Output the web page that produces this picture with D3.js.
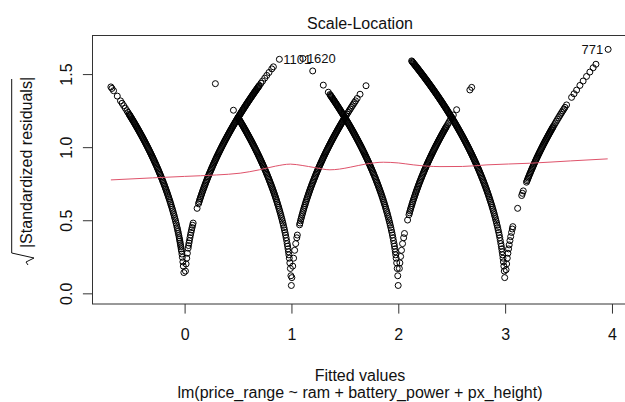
<!DOCTYPE html>
<html>
<head>
<meta charset="utf-8">
<script src="https://cdn.jsdelivr.net/npm/d3@7"></script>
<style>
  body { margin: 0; background: #fff; }
  svg { display: block; font-family: "Liberation Sans", Arial, sans-serif; }
</style>
</head>
<body>
<svg width="625" height="402"></svg>
<script>
// fitted values, one array per observed price_range (0..3)
const class0Fitted = [
  -0.69, -0.68, -0.665, -0.63, -0.6, -0.585, -0.57, -0.555, -0.54, -0.53,
  -0.52, -0.515, -0.51, -0.505, -0.5, -0.495, -0.49, -0.485, -0.48, -0.475,
  -0.47, -0.465, -0.46, -0.455, -0.45, -0.445, -0.44, -0.435, -0.43, -0.425,
  -0.42, -0.415, -0.41, -0.405, -0.4, -0.395, -0.39, -0.385, -0.38, -0.375,
  -0.37, -0.365, -0.36, -0.355, -0.35, -0.345, -0.34, -0.335, -0.33, -0.325,
  -0.32, -0.315, -0.31, -0.305, -0.3, -0.295, -0.29, -0.285, -0.28, -0.275,
  -0.27, -0.265, -0.26, -0.255, -0.25, -0.245, -0.24, -0.235, -0.23, -0.225,
  -0.22, -0.215, -0.21, -0.205, -0.2, -0.195, -0.19, -0.185, -0.18, -0.175,
  -0.17, -0.165, -0.16, -0.155, -0.15, -0.145, -0.14, -0.135, -0.13, -0.125,
  -0.12, -0.115, -0.11, -0.105, -0.1, -0.095, -0.09, -0.085, -0.08, -0.075,
  -0.07, -0.066, -0.062, -0.058, -0.054, -0.05, -0.047, -0.044, -0.041, -0.038,
  -0.035, -0.032, -0.029, -0.025, -0.021, -0.016, -0.012, -0.007, 0.008, 0.014,
  0.02, 0.026, 0.033, 0.037, 0.041, 0.045, 0.05, 0.055, 0.06, 0.065,
  0.07, 0.075, 0.08, 0.117, 0.13, 0.135, 0.14, 0.145, 0.15, 0.155,
  0.16, 0.165, 0.17, 0.175, 0.18, 0.185, 0.19, 0.195, 0.2, 0.205,
  0.21, 0.215, 0.22, 0.225, 0.23, 0.235, 0.24, 0.245, 0.25, 0.255,
  0.26, 0.265, 0.27, 0.275, 0.28, 0.285, 0.29, 0.295, 0.3, 0.305,
  0.31, 0.315, 0.32, 0.325, 0.33, 0.335, 0.34, 0.345, 0.35, 0.355,
  0.36, 0.365, 0.37, 0.375, 0.38, 0.385, 0.39, 0.395, 0.4, 0.405,
  0.41, 0.415, 0.42, 0.425, 0.43, 0.435, 0.44, 0.445, 0.45, 0.455,
  0.46, 0.465, 0.47, 0.475, 0.48, 0.485, 0.49, 0.495, 0.5, 0.505,
  0.51, 0.515, 0.52, 0.525, 0.53, 0.535, 0.54, 0.545, 0.55, 0.555,
  0.56, 0.565, 0.57, 0.575, 0.58, 0.585, 0.59, 0.595, 0.6, 0.605,
  0.61, 0.615, 0.62, 0.625, 0.63, 0.635, 0.64, 0.645, 0.65, 0.655,
  0.66, 0.665, 0.67, 0.675, 0.68, 0.685, 0.69, 0.695, 0.7, 0.715,
  0.73, 0.75, 0.769, 0.79, 0.816, 0.831, 0.887
];
const class1Fitted = [
  0.288, 0.457, 0.5, 0.505, 0.51, 0.515, 0.52, 0.525, 0.53, 0.535,
  0.54, 0.545, 0.55, 0.555, 0.56, 0.565, 0.57, 0.575, 0.58, 0.585,
  0.59, 0.595, 0.6, 0.605, 0.61, 0.615, 0.62, 0.625, 0.63, 0.635,
  0.64, 0.645, 0.65, 0.655, 0.66, 0.665, 0.67, 0.675, 0.68, 0.685,
  0.69, 0.695, 0.7, 0.705, 0.71, 0.715, 0.72, 0.725, 0.73, 0.735,
  0.74, 0.745, 0.75, 0.755, 0.76, 0.765, 0.77, 0.775, 0.78, 0.785,
  0.79, 0.795, 0.8, 0.805, 0.81, 0.815, 0.82, 0.825, 0.83, 0.835,
  0.84, 0.845, 0.85, 0.855, 0.86, 0.865, 0.87, 0.875, 0.88, 0.885,
  0.89, 0.895, 0.9, 0.905, 0.91, 0.915, 0.92, 0.925, 0.93, 0.935,
  0.94, 0.945, 0.95, 0.955, 0.96, 0.964, 0.968, 0.972, 0.976, 0.98,
  0.985, 0.99, 0.995, 0.999, 1.004, 1.012, 1.02, 1.03, 1.04, 1.05,
  1.055, 1.076, 1.08, 1.085, 1.09, 1.095, 1.1, 1.105, 1.11, 1.115,
  1.12, 1.125, 1.13, 1.135, 1.14, 1.145, 1.15, 1.155, 1.16, 1.165,
  1.17, 1.175, 1.18, 1.185, 1.19, 1.195, 1.2, 1.205, 1.21, 1.215,
  1.22, 1.225, 1.23, 1.235, 1.24, 1.245, 1.25, 1.255, 1.26, 1.265,
  1.27, 1.275, 1.28, 1.285, 1.29, 1.295, 1.3, 1.305, 1.31, 1.315,
  1.32, 1.325, 1.33, 1.335, 1.34, 1.345, 1.35, 1.355, 1.36, 1.365,
  1.37, 1.375, 1.38, 1.385, 1.39, 1.395, 1.4, 1.405, 1.41, 1.415,
  1.42, 1.425, 1.43, 1.435, 1.44, 1.445, 1.45, 1.455, 1.46, 1.465,
  1.47, 1.475, 1.48, 1.485, 1.49, 1.495, 1.5, 1.51, 1.52, 1.53,
  1.54, 1.55, 1.56, 1.57, 1.58, 1.59, 1.6, 1.615, 1.642, 1.698
];
const class2Fitted = [
  1.107, 1.199, 1.298, 1.345, 1.36, 1.365, 1.37, 1.375, 1.38, 1.385,
  1.39, 1.395, 1.4, 1.405, 1.41, 1.415, 1.42, 1.425, 1.43, 1.435,
  1.44, 1.445, 1.45, 1.455, 1.46, 1.465, 1.47, 1.475, 1.48, 1.485,
  1.49, 1.495, 1.5, 1.505, 1.51, 1.515, 1.52, 1.525, 1.53, 1.535,
  1.54, 1.545, 1.55, 1.555, 1.56, 1.565, 1.57, 1.575, 1.58, 1.585,
  1.59, 1.595, 1.6, 1.605, 1.61, 1.615, 1.62, 1.625, 1.63, 1.635,
  1.64, 1.645, 1.65, 1.655, 1.66, 1.665, 1.67, 1.675, 1.68, 1.685,
  1.69, 1.695, 1.7, 1.705, 1.71, 1.715, 1.72, 1.725, 1.73, 1.735,
  1.74, 1.745, 1.75, 1.755, 1.76, 1.765, 1.77, 1.775, 1.78, 1.785,
  1.79, 1.795, 1.8, 1.805, 1.81, 1.815, 1.82, 1.825, 1.83, 1.835,
  1.84, 1.845, 1.85, 1.855, 1.86, 1.865, 1.87, 1.875, 1.88, 1.885,
  1.89, 1.895, 1.9, 1.905, 1.91, 1.915, 1.92, 1.925, 1.93, 1.935,
  1.94, 1.945, 1.95, 1.955, 1.96, 1.964, 1.968, 1.972, 1.976, 1.98,
  1.985, 1.99, 1.995, 1.999, 2.01, 2.015, 2.022, 2.03, 2.04, 2.05,
  2.058, 2.087, 2.1, 2.105, 2.11, 2.115, 2.12, 2.125, 2.13, 2.135,
  2.14, 2.145, 2.15, 2.155, 2.16, 2.165, 2.17, 2.175, 2.18, 2.185,
  2.19, 2.195, 2.2, 2.205, 2.21, 2.215, 2.22, 2.225, 2.23, 2.235,
  2.24, 2.245, 2.25, 2.255, 2.26, 2.265, 2.27, 2.275, 2.28, 2.285,
  2.29, 2.295, 2.3, 2.305, 2.31, 2.315, 2.32, 2.325, 2.33, 2.335,
  2.34, 2.345, 2.35, 2.355, 2.36, 2.365, 2.37, 2.375, 2.38, 2.385,
  2.39, 2.395, 2.4, 2.405, 2.41, 2.415, 2.42, 2.425, 2.43, 2.435,
  2.44, 2.445, 2.45, 2.46, 2.47, 2.48, 2.49, 2.5, 2.515, 2.546,
  2.67, 2.687
];
const class3Fitted = [
  2.125, 2.13, 2.135, 2.14, 2.145, 2.15, 2.155, 2.16, 2.165, 2.17,
  2.175, 2.18, 2.185, 2.19, 2.195, 2.2, 2.205, 2.21, 2.215, 2.22,
  2.225, 2.23, 2.235, 2.24, 2.245, 2.25, 2.255, 2.26, 2.265, 2.27,
  2.275, 2.28, 2.285, 2.29, 2.295, 2.3, 2.305, 2.31, 2.315, 2.32,
  2.325, 2.33, 2.335, 2.34, 2.345, 2.35, 2.355, 2.36, 2.365, 2.37,
  2.375, 2.38, 2.385, 2.39, 2.395, 2.4, 2.405, 2.41, 2.415, 2.42,
  2.425, 2.43, 2.435, 2.44, 2.445, 2.45, 2.455, 2.46, 2.465, 2.47,
  2.475, 2.48, 2.485, 2.49, 2.495, 2.5, 2.505, 2.51, 2.515, 2.52,
  2.525, 2.53, 2.535, 2.54, 2.545, 2.55, 2.555, 2.56, 2.565, 2.57,
  2.575, 2.58, 2.585, 2.59, 2.595, 2.6, 2.605, 2.61, 2.615, 2.62,
  2.625, 2.63, 2.635, 2.64, 2.645, 2.65, 2.655, 2.66, 2.665, 2.67,
  2.675, 2.68, 2.685, 2.69, 2.695, 2.7, 2.705, 2.71, 2.715, 2.72,
  2.725, 2.73, 2.735, 2.74, 2.745, 2.75, 2.755, 2.76, 2.765, 2.77,
  2.775, 2.78, 2.785, 2.79, 2.795, 2.8, 2.805, 2.81, 2.815, 2.82,
  2.825, 2.83, 2.835, 2.84, 2.845, 2.85, 2.855, 2.86, 2.865, 2.87,
  2.875, 2.88, 2.885, 2.89, 2.895, 2.9, 2.905, 2.91, 2.915, 2.92,
  2.925, 2.93, 2.935, 2.94, 2.945, 2.95, 2.955, 2.96, 2.964, 2.968,
  2.972, 2.976, 2.98, 2.984, 2.988, 2.992, 2.996, 3.009, 3.014, 3.02,
  3.026, 3.032, 3.038, 3.045, 3.052, 3.06, 3.067, 3.072, 3.117, 3.155,
  3.162, 3.17, 3.2, 3.205, 3.21, 3.215, 3.22, 3.225, 3.23, 3.235,
  3.24, 3.245, 3.25, 3.255, 3.26, 3.265, 3.27, 3.275, 3.28, 3.285,
  3.29, 3.295, 3.3, 3.305, 3.31, 3.315, 3.32, 3.325, 3.33, 3.335,
  3.34, 3.345, 3.35, 3.355, 3.36, 3.365, 3.37, 3.375, 3.38, 3.385,
  3.39, 3.395, 3.4, 3.405, 3.41, 3.415, 3.42, 3.425, 3.43, 3.435,
  3.44, 3.445, 3.45, 3.46, 3.47, 3.48, 3.49, 3.5, 3.51, 3.52,
  3.53, 3.54, 3.55, 3.56, 3.575, 3.622, 3.645, 3.669, 3.7, 3.73,
  3.762, 3.793, 3.824, 3.85, 3.964
];

// residual standard error of the fit
const residualSE = 0.346;

// lowess smoother (red line)
const smoothX = [-0.69, -0.3, 0, 0.3, 0.52, 0.7, 0.85, 0.99, 1.1, 1.22, 1.36, 1.45, 1.55, 1.7, 1.86, 2.0, 2.14, 2.39, 2.6, 2.83, 3.23, 3.61, 3.96];
const smoothY = [0.776, 0.79, 0.8, 0.81, 0.822, 0.845, 0.87, 0.884, 0.875, 0.86, 0.845, 0.85, 0.863, 0.885, 0.897, 0.892, 0.879, 0.867, 0.868, 0.879, 0.89, 0.906, 0.92];

// labelled observations
const idLabels = ["1101", "1620", "771"];
const idClass = [0, 2, 3];
const idFitted = [0.887, 1.107, 3.964];

const xTicks = [0, 1, 2, 3, 4];
const yTicks = [0, 0.5, 1, 1.5];

const svg = d3.select("svg"),
    width = +svg.attr("width"),
    height = +svg.attr("height");

const x = d3.scaleLinear().domain([-0.862, 4.15]).range([92.5, 628]);
const y = d3.scaleLinear().domain([-0.073, 1.764]).range([304, 35.5]);

const rootStd = (cls, fitted) => { return Math.sqrt(Math.abs(cls - fitted) / residualSE); };

const points = [];
[class0Fitted, class1Fitted, class2Fitted, class3Fitted].forEach((arr, k) => {
  arr.forEach(f => { points.push({ cls: k, fitted: f }); });
});

/* points */
svg.append("g")
    .attr("class", "points")
    .selectAll("circle")
    .data(points)
    .enter().append("circle")
    .attr("cx", d => { return x(d.fitted); })
    .attr("cy", d => { return y(rootStd(d.cls, d.fitted)); })
    .attr("r", 3)
    .attr("fill", "none")
    .attr("stroke", "#000")
    .attr("stroke-width", 1);

/* smoother */
const line = d3.line()
    .x((d, i) => { return x(smoothX[i]); })
    .y(d => { return y(d); })
    .curve(d3.curveMonotoneX);

svg.append("path")
    .datum(smoothY)
    .attr("d", line)
    .attr("fill", "none")
    .attr("stroke", "#DF536B")
    .attr("stroke-width", 1);

/* id labels (R draws them on top of each other here) */
svg.append("g")
    .attr("class", "ids")
    .selectAll("text")
    .data(idLabels)
    .enter().append("text")
    .attr("x", (d, i) => { return idFitted[i] > 1.7 ? x(idFitted[i]) - 5 : x(idFitted[i]) + 4; })
    .attr("y", (d, i) => { return y(rootStd(idClass[i], idFitted[i])) + 4.6; })
    .attr("text-anchor", (d, i) => { return idFitted[i] > 1.7 ? "end" : "start"; })
    .style("font-size", "13px")
    .attr("fill", "#111")
    .text(d => { return d; });

/* box */
svg.append("rect")
    .attr("x", 92.5)
    .attr("y", 35.5)
    .attr("width", 628 - 92.5)
    .attr("height", 304 - 35.5)
    .attr("fill", "none")
    .attr("stroke", "#333")
    .attr("stroke-width", 1);

/* axes */
const xAxis = svg.append("g")
    .attr("transform", "translate(0,304)")
    .call(d3.axisBottom(x).tickValues(xTicks).tickFormat(d3.format("d")).tickSize(9.6).tickPadding(15));

const yAxis = svg.append("g")
    .attr("transform", "translate(92.5,0)")
    .call(d3.axisLeft(y).tickValues(yTicks).tickFormat(d3.format(".1f")).tickSize(9.6));

[xAxis, yAxis].forEach(a => {
  a.select(".domain").remove();
  a.selectAll("line").attr("stroke", "#333");
  a.selectAll("text")
      .attr("fill", "#111")
      .style("font-size", "16px")
      .style("font-family", "'Liberation Sans', Arial, sans-serif");
});

yAxis.selectAll("text")
    .attr("x", null)
    .attr("dy", null)
    .attr("text-anchor", "middle")
    .attr("transform", "translate(-20.5,0) rotate(-90)");

/* titles */
svg.append("text")
    .attr("x", 360)
    .attr("y", 28.5)
    .attr("text-anchor", "middle")
    .style("font-size", "16px")
    .attr("fill", "#111")
    .text("Scale-Location");

svg.append("text")
    .attr("x", 360)
    .attr("y", 381)
    .attr("text-anchor", "middle")
    .style("font-size", "16px")
    .attr("fill", "#111")
    .text("Fitted values");

svg.append("text")
    .attr("x", 360)
    .attr("y", 397.5)
    .attr("text-anchor", "middle")
    .style("font-size", "16px")
    .attr("fill", "#111")
    .text("lm(price_range ~ ram + battery_power + px_height)");

// y label with radical sign
const ylab = svg.append("g")
    .attr("transform", "translate(32,170) rotate(-90)");

ylab.append("text")
    .attr("x", 7.5)
    .attr("y", 0)
    .attr("text-anchor", "middle")
    .style("font-size", "16px")
    .attr("fill", "#111")
    .text("|Standardized residuals|");

ylab.append("path")
    .attr("d", "M-95,-4 L-92,-6 L-88,2 L-83,-20.3 L91,-20.3")
    .attr("fill", "none")
    .attr("stroke", "#111")
    .attr("stroke-width", 1);
</script>
</body>
</html>
